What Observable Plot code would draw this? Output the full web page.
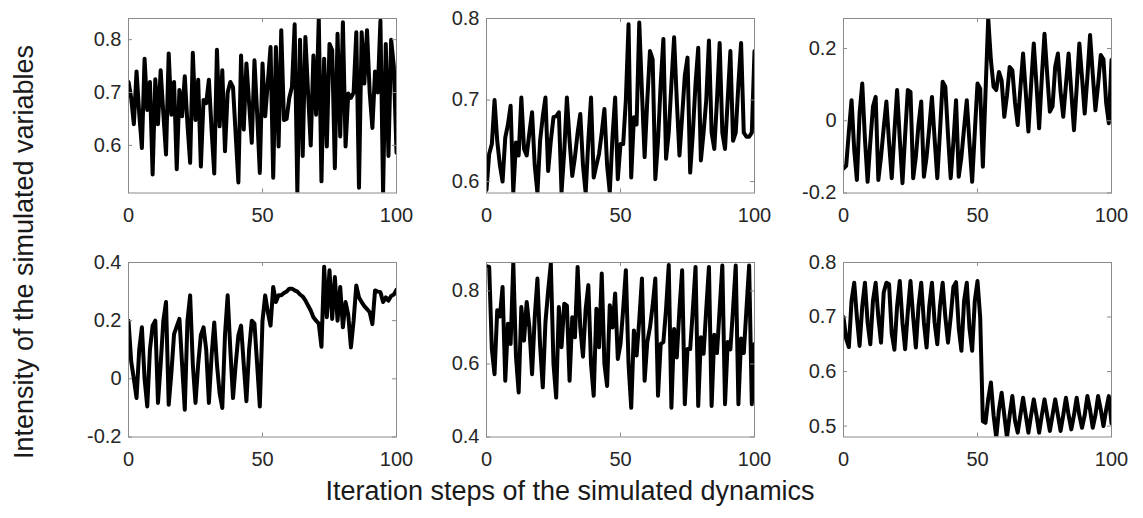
<!DOCTYPE html>
<html><head><meta charset="utf-8">
<script src="https://cdn.jsdelivr.net/npm/d3@7"></script>
<script src="https://cdn.jsdelivr.net/npm/@observablehq/plot@0.6"></script>
<style>
body{margin:0;background:#fff;}
#chart{position:relative;width:1143px;height:518px;font-family:"Liberation Sans",Arial,sans-serif;overflow:hidden;}
.panel{position:absolute;}
.xtitle{position:absolute;top:476px;font-size:27px;color:#1a1a1a;white-space:nowrap;transform:translateX(-50%);}
.ytitle{position:absolute;font-size:27px;color:#1a1a1a;white-space:nowrap;transform:translate(-50%,-50%) rotate(-90deg);}
</style></head><body><div id="chart"></div>
<script>
const xTicks = [0, 50, 100];
const xTitle = "Iteration steps of the simulated dynamics";
const yTitle = "Intensity of the simulated variables";

const series1 = [0.72,0.69,0.64,0.74,0.66,0.595,0.764,0.667,0.72,0.545,0.725,0.64,0.742,0.66,0.583,0.774,0.658,0.72,0.555,0.705,0.655,0.731,0.64,0.567,0.775,0.648,0.724,0.56,0.686,0.68,0.724,0.63,0.547,0.781,0.636,0.742,0.589,0.70,0.72,0.71,0.62,0.53,0.77,0.63,0.755,0.68,0.605,0.761,0.66,0.548,0.755,0.655,0.72,0.786,0.539,0.786,0.598,0.818,0.648,0.65,0.69,0.711,0.829,0.51,0.80,0.58,0.805,0.70,0.60,0.77,0.658,0.84,0.532,0.764,0.598,0.792,0.78,0.557,0.811,0.617,0.833,0.598,0.698,0.69,0.70,0.814,0.52,0.814,0.717,0.818,0.70,0.633,0.74,0.70,0.836,0.51,0.792,0.58,0.80,0.75,0.586];
const series2 = [0.59,0.634,0.646,0.70,0.65,0.62,0.60,0.654,0.67,0.693,0.587,0.648,0.632,0.703,0.64,0.632,0.66,0.685,0.62,0.586,0.65,0.68,0.703,0.613,0.65,0.679,0.68,0.685,0.587,0.636,0.703,0.65,0.607,0.63,0.66,0.683,0.62,0.586,0.65,0.703,0.605,0.62,0.634,0.66,0.689,0.62,0.587,0.654,0.703,0.603,0.646,0.646,0.70,0.793,0.605,0.679,0.67,0.795,0.71,0.63,0.70,0.76,0.75,0.603,0.65,0.72,0.775,0.628,0.66,0.72,0.777,0.70,0.632,0.68,0.73,0.752,0.611,0.66,0.72,0.764,0.626,0.66,0.70,0.773,0.66,0.64,0.70,0.77,0.66,0.64,0.70,0.76,0.65,0.66,0.72,0.77,0.66,0.655,0.655,0.66,0.76];
const series3 = [-0.132,-0.125,-0.03,0.057,-0.08,-0.164,0.02,0.103,-0.05,-0.169,-0.06,0.039,0.066,-0.164,-0.10,-0.02,0.053,-0.06,-0.159,-0.03,0.085,-0.05,-0.173,-0.04,0.085,0.08,-0.159,-0.10,-0.01,0.053,-0.155,-0.10,-0.02,0.066,-0.05,-0.159,-0.03,0.108,0.094,-0.04,-0.159,-0.06,0.057,-0.155,-0.10,-0.02,0.057,-0.06,-0.169,-0.03,0.103,0.089,-0.127,0.08,0.283,0.168,0.094,0.085,0.135,0.112,0.011,0.07,0.149,0.14,0.05,-0.012,0.09,0.186,0.08,-0.03,0.10,0.214,0.10,-0.021,0.12,0.241,0.13,0.025,0.04,0.15,0.186,0.08,0.011,0.10,0.186,0.08,-0.026,0.09,0.214,0.12,0.02,0.12,0.237,0.13,0.029,0.10,0.182,0.17,0.05,-0.007,0.168];
const series4 = [0.20,0.06,0.00,-0.066,0.10,0.177,0.00,-0.095,0.10,0.183,0.20,-0.083,0.05,0.20,0.264,-0.089,0.02,0.154,0.18,0.206,0.05,-0.106,0.20,0.287,0.05,-0.083,0.05,0.15,0.177,0.10,-0.083,0.08,0.194,0.05,-0.05,-0.10,0.15,0.287,0.10,-0.066,0.05,0.15,0.183,0.05,-0.077,0.10,0.20,0.19,0.05,-0.095,0.20,0.287,0.229,0.183,0.316,0.264,0.287,0.287,0.295,0.30,0.31,0.31,0.304,0.30,0.29,0.283,0.27,0.252,0.235,0.212,0.20,0.19,0.11,0.385,0.212,0.373,0.206,0.35,0.20,0.316,0.177,0.264,0.22,0.108,0.20,0.321,0.28,0.264,0.25,0.24,0.229,0.188,0.304,0.30,0.298,0.264,0.28,0.269,0.285,0.29,0.306];
const series5 = [0.868,0.866,0.64,0.572,0.747,0.73,0.811,0.554,0.71,0.655,0.877,0.62,0.522,0.756,0.664,0.77,0.70,0.572,0.728,0.834,0.65,0.536,0.715,0.80,0.875,0.60,0.508,0.756,0.646,0.765,0.76,0.554,0.728,0.673,0.866,0.70,0.62,0.75,0.816,0.60,0.513,0.751,0.646,0.848,0.60,0.54,0.761,0.70,0.793,0.614,0.655,0.75,0.857,0.60,0.48,0.692,0.623,0.72,0.834,0.554,0.66,0.70,0.76,0.834,0.513,0.655,0.66,0.75,0.871,0.48,0.696,0.618,0.75,0.857,0.49,0.641,0.641,0.75,0.866,0.485,0.673,0.628,0.75,0.866,0.485,0.68,0.63,0.75,0.87,0.49,0.66,0.64,0.75,0.87,0.49,0.67,0.63,0.75,0.87,0.49,0.655];
const series6 = [0.70,0.66,0.645,0.73,0.763,0.70,0.647,0.72,0.763,0.69,0.65,0.73,0.763,0.70,0.653,0.745,0.763,0.76,0.67,0.64,0.72,0.766,0.69,0.641,0.71,0.766,0.70,0.644,0.72,0.763,0.69,0.644,0.72,0.763,0.69,0.65,0.72,0.763,0.70,0.653,0.70,0.755,0.764,0.68,0.638,0.73,0.763,0.68,0.638,0.73,0.766,0.70,0.509,0.506,0.55,0.58,0.52,0.479,0.53,0.561,0.52,0.479,0.52,0.555,0.51,0.488,0.52,0.552,0.52,0.488,0.52,0.549,0.52,0.488,0.52,0.549,0.52,0.491,0.52,0.549,0.52,0.491,0.52,0.552,0.52,0.494,0.52,0.552,0.52,0.497,0.52,0.555,0.53,0.497,0.52,0.555,0.53,0.50,0.53,0.555,0.505];

const yTicks1 = [0.6, 0.7, 0.8];
const yTicks2 = [0.6, 0.7, 0.8];
const yTicks3 = [-0.2, 0, 0.2];
const yTicks4 = [-0.2, 0, 0.2, 0.4];
const yTicks5 = [0.4, 0.6, 0.8];
const yTicks6 = [0.5, 0.6, 0.7, 0.8];

const yDomain1 = [0.51, 0.84];
const yDomain2 = [0.586, 0.80];
const yDomain3 = [-0.2, 0.283];
const yDomain4 = [-0.2, 0.4];
const yDomain5 = [0.4, 0.878];
const yDomain6 = [0.48, 0.80];

// layout (frame positions in page pixels)
const W = 268, H = 174.5;
const cols = [128.3, 485.7, 843.3];
const rows = [18.3, 262.3];
const panels = [
  {values: series1, ticks: yTicks1, domain: yDomain1, col: 0, row: 0},
  {values: series2, ticks: yTicks2, domain: yDomain2, col: 1, row: 0},
  {values: series3, ticks: yTicks3, domain: yDomain3, col: 2, row: 0},
  {values: series4, ticks: yTicks4, domain: yDomain4, col: 0, row: 1},
  {values: series5, ticks: yTicks5, domain: yDomain5, col: 1, row: 1},
  {values: series6, ticks: yTicks6, domain: yDomain6, col: 2, row: 1}
];

const chart = document.getElementById("chart");
const mL = 70, mR = 12, mT = 12, mB = 45;
const axisColor = "#8a8a8a";
const textColor = "#262626";
const fmt = d => String(d);

for (const p of panels) {
  const svg = Plot.plot({
    width: W + mL + mR,
    height: H + mT + mB,
    marginLeft: mL, marginRight: mR, marginTop: mT, marginBottom: mB,
    style: {fontFamily: '"Liberation Sans", Arial, sans-serif', fontSize: "20px", color: textColor, background: "transparent", overflow: "visible"},
    x: {domain: [0, 100]},
    y: {domain: p.domain},
    marks: [
      Plot.line(p.values, {x: (d, i) => i, y: d => d, stroke: "#000", strokeWidth: 4, strokeLinejoin: "round", clip: true}),
      Plot.frame({stroke: axisColor, strokeWidth: 1}),
      Plot.tickX(xTicks, {x: d => d, insetTop: H - 4, stroke: axisColor}),
      Plot.tickX(xTicks, {x: d => d, insetBottom: H - 4, stroke: axisColor}),
      Plot.tickY(p.ticks, {y: d => d, insetRight: W - 4, stroke: axisColor}),
      Plot.tickY(p.ticks, {y: d => d, insetLeft: W - 4, stroke: axisColor}),
      Plot.axisX({ticks: xTicks, tickSize: 0, tickPadding: 15, tickFormat: fmt, fontSize: 20, label: null, fill: textColor}),
      Plot.axisY({ticks: p.ticks, tickSize: 0, tickPadding: 7, tickFormat: fmt, fontSize: 20, label: null, fill: textColor})
    ]
  });
  const div = document.createElement("div");
  div.className = "panel";
  div.style.left = (cols[p.col] - mL) + "px";
  div.style.top = (rows[p.row] - mT) + "px";
  div.appendChild(svg);
  chart.appendChild(div);
}

const xt = document.createElement("div");
xt.className = "xtitle";
xt.textContent = xTitle;
xt.style.left = "570px";
chart.appendChild(xt);

const yt = document.createElement("div");
yt.className = "ytitle";
yt.textContent = yTitle;
yt.style.left = "24px";
yt.style.top = "252px";
chart.appendChild(yt);
</script></body></html>
